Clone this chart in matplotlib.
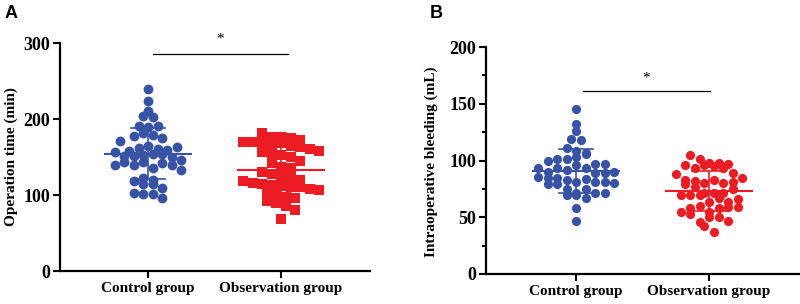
import numpy as np
import matplotlib
matplotlib.use("Agg")
import matplotlib.pyplot as plt

categories = ["Control group", "Observation group"]

# Panel A: operation time (min)
op_control = [240, 224, 211, 204, 202, 191, 190, 191, 178, 181, 179, 175, 171,
              158, 162, 164, 160, 159, 163, 157, 151, 151, 153, 154, 154, 150,
              139, 143, 139, 143, 135, 142, 139, 133, 123, 120, 118, 114, 114,
              109, 103, 101, 101, 96, 146]
op_observation = [181, 176, 176, 175, 172, 170, 170, 169, 168, 168, 165, 163, 160,
                  158, 157, 155, 153, 150, 145, 142, 137, 135, 130, 128, 125, 122,
                  120, 118, 116, 115, 113, 112, 111, 110, 108, 106, 104, 100, 98,
                  96, 92, 89, 85, 80, 69]

# Panel B: intraoperative bleeding (mL)
bl_control = [145, 132.5, 126, 119, 118, 111, 108, 100, 101, 101, 103, 105.6, 107,
              93, 90, 93, 91.5, 97, 96, 97, 93, 88.6, 89, 90, 85.6, 85, 85, 79,
              83, 81, 84, 79, 81, 81, 80, 74.5, 70, 71.5, 75, 71.5, 70, 71.5, 67,
              58, 46.6]
bl_observation = [105, 101, 96, 93, 98, 98, 96, 97, 95, 93, 88, 89, 83, 82, 80, 83,
                  80, 79, 81, 85, 77, 71, 69.5, 71, 71, 69.5, 74.5, 69.5, 63.6, 67,
                  63, 66.5, 55, 58, 60, 55, 58, 59, 58.6, 52.5, 46, 50, 50.4, 42.5,
                  46.6, 36.7]

BLUE = "#3953A4"
RED = "#EC1C24"
SERIF = "Liberation Serif"
DPI = 100

fig = plt.figure(figsize=(8, 3.04), dpi=DPI)
axA = fig.add_axes([60/800, 33/304, 310/800, 228/304])
axB = fig.add_axes([486/800, 30/304, 314/800, 227/304])


def swarm_offsets(ax, vals, bin_px, step_px):
    """Row-binned scatter layout (like a column scatter plot), in pixels."""
    vals = np.asarray(vals, float)
    trans = ax.transData
    y_px = trans.transform(np.column_stack([np.zeros_like(vals), vals]))[:, 1]
    y0 = trans.transform([[0, 0]])[0, 1]
    kx = trans.transform([[1, 0]])[0, 0] - trans.transform([[0, 0]])[0, 0]
    bins = np.floor((y_px - y0) / bin_px).astype(int)
    offs = np.zeros(len(vals))
    for b in np.unique(bins):
        idx = np.where(bins == b)[0]
        n = len(idx)
        for k, i in enumerate(idx):
            offs[i] = (k - (n - 1) / 2) * step_px / kx
    return offs


def draw_group(ax, pos, vals, color, marker, size, bin_px, step_px):
    vals = np.asarray(vals, float)
    offs = swarm_offsets(ax, vals, bin_px, step_px)
    ax.scatter(pos + offs, vals, s=size, c=color, marker=marker,
               linewidths=0, zorder=3, clip_on=False)
    m = vals.mean()
    sd = vals.std(ddof=1)
    ax.plot([pos - 0.32, pos + 0.32], [m, m], color=color, lw=1.5, zorder=4)
    ax.plot([pos - 0.13, pos + 0.13], [m + sd, m + sd], color=color, lw=1.2, zorder=4)
    ax.plot([pos - 0.13, pos + 0.13], [m - sd, m - sd], color=color, lw=1.2, zorder=4)
    ax.plot([pos, pos], [m - sd, m + sd], color=color, lw=1.2, zorder=4)


def style(ax, ylim, major, minor, ylabel, xlim):
    ax.set_xlim(*xlim)
    ax.set_ylim(*ylim)
    for s in ["top", "right"]:
        ax.spines[s].set_visible(False)
    for s in ["left", "bottom"]:
        ax.spines[s].set_linewidth(1.6)
    ax.set_yticks(major)
    if minor is not None:
        ax.set_yticks(minor, minor=True)
    ax.set_xticks([0, 1])
    ax.set_xticklabels(categories, fontfamily=SERIF, fontweight="bold", fontsize=11)
    ax.tick_params(axis="both", which="major", length=5, width=1.5, pad=2)
    ax.tick_params(axis="x", pad=3)
    ax.tick_params(axis="y", which="minor", length=3, width=1.5)
    for t in ax.get_yticklabels():
        t.set_fontfamily(SERIF)
        t.set_fontweight("bold")
        t.set_fontsize(13)
    ax.set_ylabel(ylabel, fontfamily=SERIF, fontweight="bold", fontsize=11)


style(axA, (0, 300), [0, 100, 200, 300], None, "Operation time (min)", (-0.662, 1.669))
axA.yaxis.set_label_coords(-0.135, 0.5)
style(axB, (0, 200), [0, 50, 100, 150, 200], [25, 75, 125, 175],
      "Intraoperative bleeding (mL)", (-0.677, 1.684))
axB.yaxis.set_label_coords(-0.153, 0.495)

# Panel A
draw_group(axA, 0, op_control, BLUE, "o", 50, 10.0, 9.5)
draw_group(axA, 1, op_observation, RED, "s", 60, 10.0, 9.5)
axA.plot([0.04, 1.05], [285.5, 285.5], color="black", lw=0.9, clip_on=False)
axA.text(0.54, 305, "*", ha="center", va="center", fontsize=11,
         fontfamily=SERIF, clip_on=False)

# Panel B
draw_group(axB, 0, bl_control, BLUE, "o", 44, 10.0, 9.5)
draw_group(axB, 1, bl_observation, RED, "o", 44, 10.0, 9.5)
axB.plot([0.05, 1.01], [161, 161], color="black", lw=0.9, clip_on=False)
axB.text(0.53, 173, "*", ha="center", va="center", fontsize=11,
         fontfamily=SERIF, clip_on=False)

fig.text(0.006, 0.985, "A", fontfamily="Liberation Sans", fontweight="bold",
         fontsize=13, ha="left", va="top")
fig.text(430/800, 0.985, "B", fontfamily="Liberation Sans", fontweight="bold",
         fontsize=13, ha="left", va="top")

fig.savefig("out.png", dpi=DPI)
